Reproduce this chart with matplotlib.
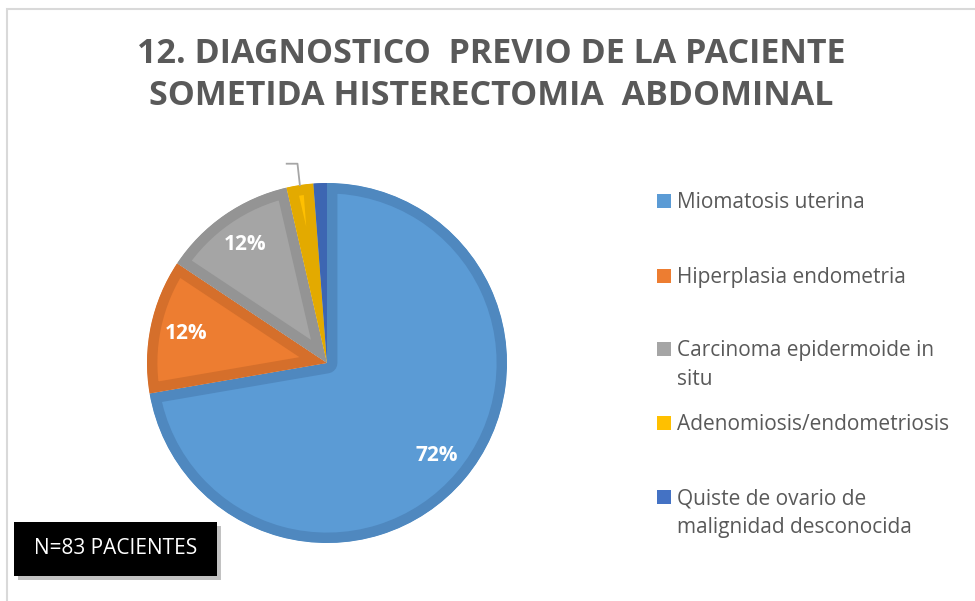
import numpy as np
import matplotlib.pyplot as plt
from matplotlib.patches import Rectangle

plt.rcParams['font.family'] = ['Open Sans', 'DejaVu Sans']

categorias = ['Miomatosis uterina', 'Hiperplasia endometria',
              'Carcinoma epidermoide in\nsitu', 'Adenomiosis/endometriosis',
              'Quiste de ovario de\nmalignidad desconocida']
pacientes = [60, 10, 10, 2, 1]
colores = ['#5B9BD5', '#ED7D31', '#A5A5A5', '#FFC000', '#4472C4']
bordes = ['#4F88BF', '#D56F2B', '#949494', '#E3AA00', '#3D66B2']
titulo = '12. DIAGNOSTICO  PREVIO DE LA PACIENTE\nSOMETIDA HISTERECTOMIA  ABDOMINAL'
nota = 'N=83 PACIENTES'

W, H = 975, 601
fig = plt.figure(figsize=(W / 100, H / 100), dpi=100)

def fx(x):
    return x / W

def fy(y):
    return 1 - y / H

# outer chart frame (only left/top visible)
fig.patches.append(Rectangle((fx(7), fy(H + 20)), fx(W + 20), (H + 11) / H,
                             transform=fig.transFigure, fill=False,
                             edgecolor='#D9D9D9', linewidth=1.5))

fig.text(fx(491), fy(75), titulo, ha='center', va='center', fontsize=24.5,
         fontweight='bold', color='#595959', linespacing=1.33)

# pie
cx, cy, r = 327, 363, 180
ax = fig.add_axes([fx(cx - r), fy(cy + r), 2 * r / W, 2 * r / H])

total = sum(pacientes)
wedges, _, autotexts = ax.pie(
    pacientes, colors=colores, startangle=90, counterclock=False, radius=1,
    autopct=lambda p: f'{p:.0f}%' if p > 5 else '', pctdistance=0.8,
    textprops=dict(color='white', fontsize=15, fontweight='bold'))
for w, b in zip(wedges, bordes):
    w.set_edgecolor(b)
    w.set_linewidth(15)
    w.set_joinstyle('round')
    w.set_clip_on(True)
    w.set_clip_path(w)
ax.set_xlim(-1, 1)
ax.set_ylim(-1, 1)
ax.set_aspect('equal')
ax.axis('off')

# leader line for the small yellow slice
acum = np.cumsum([0] + pacientes)
mid = 90 - 360 * (acum[3] + pacientes[3] / 2) / total
ang = np.deg2rad(mid)
x0, y0 = np.cos(ang), np.sin(ang)
x1, y1 = 1.12 * np.cos(ang) + 0.005, 1.12 * np.sin(ang)
ax.plot([x0, x1, x1 - 0.06], [y0, y1, y1], color='#A6A6A6', linewidth=1.3,
        clip_on=False)

# legend
ley_base = [208, 283, 356, 430, 504]
for lab, col, y in zip(categorias, colores, ley_base):
    fig.patches.append(Rectangle((fx(657), fy(y)), fx(14), 14 / H,
                                 transform=fig.transFigure, facecolor=col,
                                 edgecolor='none'))
    for i, linea in enumerate(lab.split('\n')):
        fig.text(fx(677), fy(y + 29 * i), linea, ha='left', va='baseline',
                 fontsize=15, color='#595959')

# N box with shadow
fig.patches.append(Rectangle((fx(18), fy(580)), fx(203), 54 / H,
                             transform=fig.transFigure, facecolor='#9A9A9A',
                             edgecolor='none', alpha=0.6))
fig.patches.append(Rectangle((fx(14), fy(576)), fx(203), 54 / H,
                             transform=fig.transFigure, facecolor='black',
                             edgecolor='none'))
fig.text(fx(116), fy(549), nota, ha='center', va='center', fontsize=15,
         color='white')

fig.savefig('out.png', dpi=100)
